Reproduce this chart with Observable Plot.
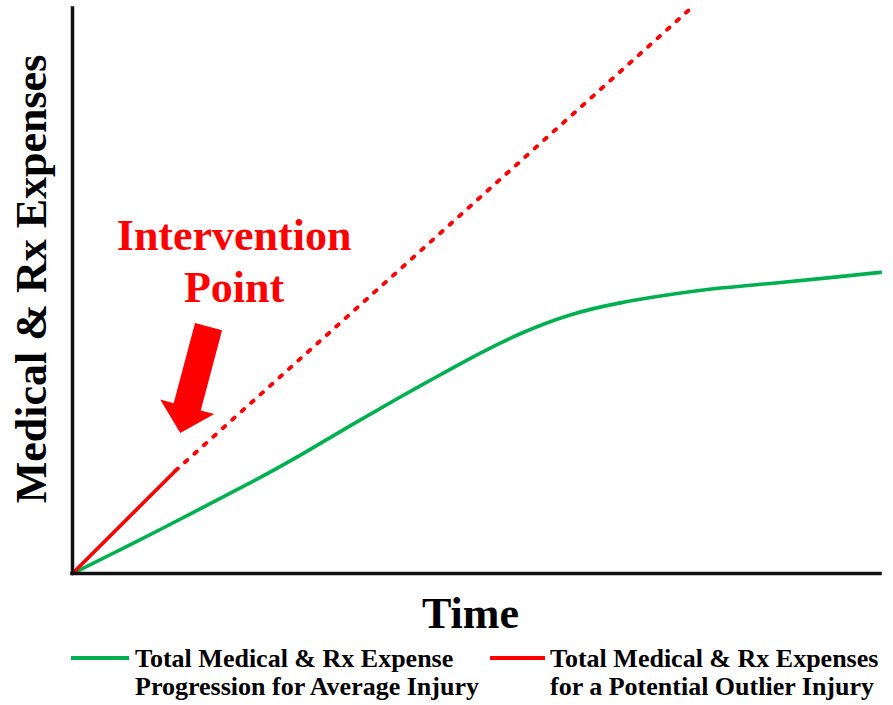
<!DOCTYPE html>
<html>
<head>
<meta charset="utf-8">
<script src="https://cdn.jsdelivr.net/npm/d3@7"></script>
<script src="https://cdn.jsdelivr.net/npm/@observablehq/plot@0.6"></script>
<style>
  html, body { margin: 0; padding: 0; background: #fff; }
  #wrap { position: relative; width: 893px; height: 705px; overflow: hidden;
          font-family: "Liberation Serif", "Times New Roman", serif; font-weight: bold; }
  #legend { position: absolute; left: 0; top: 640px; width: 893px; height: 65px; }
  .swatch { position: absolute; top: 16px; height: 3.5px; }
  .item { position: absolute; top: 5px; font-size: 26px; line-height: 28px; color: #000; white-space: nowrap; }
</style>
</head>
<body>
<div id="wrap">
  <div id="chart"></div>
  <div id="legend"></div>
</div>
<script>
// Time axis (arbitrary units, 0–100) and expense level for the average injury
const timeAvg    = [0, 5.9, 10.9, 17.1, 23.3, 28.2, 34.4, 40.6, 44.3, 49.3, 55.4, 61.6, 67.8, 74.0, 80.2, 86.4, 92.6, 100];
const expenseAvg = [0, 4.2, 7.8, 12.4, 17.0, 20.9, 26.2, 31.3, 34.2, 38.2, 42.6, 46.0, 48.0, 49.4, 50.6, 51.3, 52.2, 53.3];

// Potential outlier injury: observed up to the intervention point, projected after it
const timeOutlier    = [0, 12.75, 76.5];
const expenseOutlier = [0, 18.2, 100];
const interventionIndex = 1;

// Labels
const xLabel = "Time";
const yLabel = "Medical & Rx Expenses";
const annotation = "Intervention\nPoint";
const seriesNames = [
  "Total Medical & Rx Expense\nProgression for Average Injury",
  "Total Medical & Rx Expenses\nfor a Potential Outlier Injury"
];
const seriesColors = ["#00b050", "#ff0000"];

// Annotation placement (data units): label centre, arrow tail and arrow tip
const annotationAt = [20.0, 55.6];
const arrowFrom = [16.9, 43.6];
const arrowTo = [13.4, 24.8];

const avg = timeAvg.map((t, i) => ({t, v: expenseAvg[i]}));
const outlier = timeOutlier.map((t, i) => ({t, v: expenseOutlier[i]}));
const observed = outlier.slice(0, interventionIndex + 1);
const projected = outlier.slice(interventionIndex);

const font = "Liberation Serif, Times New Roman, serif";

// Filled block arrow drawn in screen space from the x/y scales
function blockArrow(index, scales) {
  const cx = scales.x(arrowFrom[0]), cy = scales.y(arrowFrom[1]);
  const tx = scales.x(arrowTo[0]), ty = scales.y(arrowTo[1]);
  const L = Math.hypot(tx - cx, ty - cy);
  const ux = (tx - cx) / L, uy = (ty - cy) / L;
  const nx = -uy, ny = ux;
  const headLen = 27, shaft = 14, head = 28;
  const bx = tx - ux * headLen, by = ty - uy * headLen;
  const pts = [
    [cx + nx * shaft, cy + ny * shaft],
    [bx + nx * shaft, by + ny * shaft],
    [bx + nx * head, by + ny * head],
    [tx, ty],
    [bx - nx * head, by - ny * head],
    [bx - nx * shaft, by - ny * shaft],
    [cx - nx * shaft, cy - ny * shaft]
  ];
  return d3.create("svg:path")
    .attr("d", "M" + pts.map(p => p.join(",")).join("L") + "Z")
    .attr("fill", seriesColors[1])
    .node();
}

const chart = Plot.plot({
  width: 893,
  height: 640,
  marginLeft: 72,
  marginRight: 13,
  marginTop: 8,
  marginBottom: 67,
  x: {domain: [0, 100], axis: null},
  y: {domain: [0, 100], axis: null},
  style: {fontFamily: font, background: "white", overflow: "visible"},
  marks: [
    Plot.line(avg, {x: "t", y: "v", stroke: seriesColors[0], strokeWidth: 3.6, curve: "basis"}),
    Plot.line(observed, {x: "t", y: "v", stroke: seriesColors[1], strokeWidth: 3.6}),
    Plot.line(projected, {x: "t", y: "v", stroke: seriesColors[1], strokeWidth: 3.9,
      strokeDasharray: "3.2 9.5", strokeLinecap: "round"}),
    Plot.ruleX([0], {stroke: "#111", strokeWidth: 3.5, strokeLinecap: "square"}),
    Plot.ruleY([0], {stroke: "#111", strokeWidth: 3.5, strokeLinecap: "square"}),
    blockArrow,
    Plot.text([annotation], {x: () => annotationAt[0], y: () => annotationAt[1],
      text: d => d, fill: seriesColors[1], fontSize: 44, fontWeight: "bold",
      lineHeight: 1.18, textAnchor: "middle", lineAnchor: "middle"}),
    Plot.text([xLabel], {frameAnchor: "bottom", text: d => d, dx: -6, dy: 40,
      fontSize: 44, fontWeight: "bold", fill: "#000", textAnchor: "middle", lineAnchor: "middle"}),
    Plot.text([yLabel], {frameAnchor: "left", text: d => d, rotate: -90, dx: -41, dy: -12,
      fontSize: 44, fontWeight: "bold", fill: "#000", textAnchor: "middle", lineAnchor: "middle"})
  ]
});
document.getElementById("chart").appendChild(chart);

// Legend below the chart
const legend = document.getElementById("legend");
const legendLayout = [
  {swatchLeft: 71, swatchWidth: 58, textLeft: 135},
  {swatchLeft: 490, swatchWidth: 55, textLeft: 550}
];
seriesNames.forEach((name, i) => {
  const sw = document.createElement("div");
  sw.className = "swatch";
  sw.style.left = legendLayout[i].swatchLeft + "px";
  sw.style.width = legendLayout[i].swatchWidth + "px";
  sw.style.background = seriesColors[i];
  legend.appendChild(sw);
  const tx = document.createElement("div");
  tx.className = "item";
  tx.style.left = legendLayout[i].textLeft + "px";
  name.split("\n").forEach((line, j) => {
    if (j) tx.appendChild(document.createElement("br"));
    tx.appendChild(document.createTextNode(line));
  });
  legend.appendChild(tx);
});
</script>
</body>
</html>
